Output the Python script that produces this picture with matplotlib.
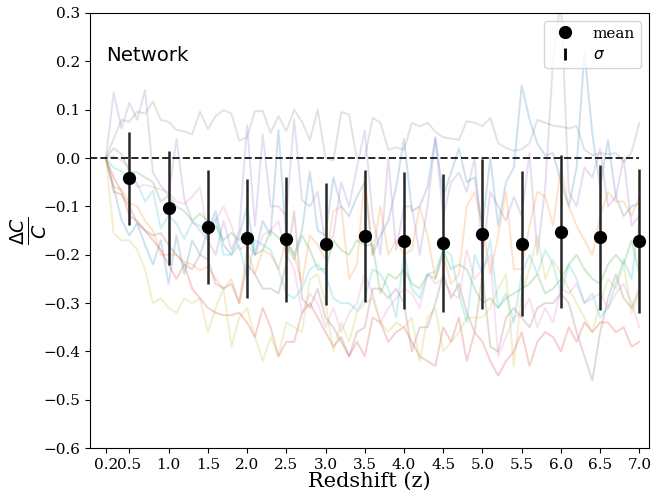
import numpy as np
import matplotlib
matplotlib.use("Agg")
import matplotlib.pyplot as plt
from matplotlib.lines import Line2D

# redshift grid for the individual runs (0.2 ... 7.0, step 0.1)
z_runs = np.round(np.arange(0.2, 7.01, 0.1), 1)

# individual runs (ΔC/C)
run_blue = [
    0.0, -0.06, -0.128, -0.16, -0.135, -0.18, -0.22, -0.17, -0.26, -0.16,
    -0.24, -0.17, -0.2, -0.15, -0.11, -0.18, -0.2, -0.16, -0.1, -0.2,
    -0.13, -0.16, 0.058, -0.17, -0.2, -0.15, -0.028, -0.15, -0.16, -0.04,
    -0.1, -0.12, -0.08, -0.05, -0.2, -0.16, -0.13, -0.06, 0.04, -0.11,
    -0.1, -0.06, 0.043, -0.08, -0.03, 0.02, -0.05, -0.04, -0.14, 0.0,
    -0.14, -0.05, -0.02, 0.15, 0.08, 0.03, 0.005, 0.01, -0.05, -0.1,
    -0.02, 0.22, 0.05, -0.06, 0.037, -0.08, -0.12, -0.1, -0.094]
run_orange = [
    0.0, -0.06, -0.065, -0.093, -0.1, -0.13, -0.15, -0.2, -0.2, -0.2,
    -0.215, -0.22, -0.232, -0.225, -0.25, -0.27, -0.25, -0.3, -0.19, -0.24,
    -0.19, -0.2, -0.23, -0.17, -0.2, -0.26, -0.16, -0.18, -0.21, -0.11,
    -0.1, -0.25, -0.22, -0.037, -0.2, -0.1, -0.2, -0.17, -0.2, -0.19,
    -0.1, -0.16, -0.25, -0.2, -0.26, -0.24, -0.1, -0.07, -0.14, -0.24,
    -0.16, -0.07, -0.23, -0.23, -0.14, -0.07, -0.08, -0.14, -0.02, -0.1,
    -0.14, -0.17, -0.2, -0.12, -0.07, -0.09, -0.09, -0.12, -0.08]
run_green = [
    0.0, 0.02, 0.008, -0.028, -0.03, -0.04, -0.05, -0.09, -0.078, -0.1,
    -0.11, -0.13, -0.115, -0.13, -0.14, -0.17, -0.155, -0.17, -0.15, -0.2,
    -0.19, -0.15, -0.165, -0.18, -0.21, -0.16, -0.19, -0.23, -0.23, -0.17,
    -0.19, -0.2, -0.17, -0.18, -0.18, -0.28, -0.24, -0.25, -0.23, -0.26,
    -0.27, -0.24, -0.25, -0.19, -0.23, -0.22, -0.23, -0.27, -0.3, -0.29,
    -0.31, -0.29, -0.28, -0.27, -0.26, -0.24, -0.28, -0.27, -0.25, -0.22,
    -0.2, -0.23, -0.25, -0.26, -0.22, -0.2, -0.22, -0.17, -0.24]
run_red = [
    0.0, -0.04, -0.07, -0.12, -0.13, -0.15, -0.17, -0.19, -0.22, -0.25,
    -0.22, -0.27, -0.29, -0.31, -0.32, -0.325, -0.325, -0.32, -0.34, -0.37,
    -0.31, -0.35, -0.41, -0.38, -0.38, -0.32, -0.3, -0.33, -0.36, -0.39,
    -0.37, -0.41, -0.38, -0.41, -0.33, -0.34, -0.38, -0.36, -0.35, -0.38,
    -0.41, -0.42, -0.43, -0.35, -0.38, -0.33, -0.42, -0.36, -0.38, -0.42,
    -0.45, -0.42, -0.4, -0.36, -0.43, -0.38, -0.36, -0.37, -0.4, -0.35,
    -0.38, -0.34, -0.36, -0.34, -0.34, -0.36, -0.35, -0.39, -0.38]
run_purple = [
    0.0, 0.135, 0.061, 0.114, 0.079, 0.141, -0.03, -0.057, -0.078, 0.04,
    -0.085, -0.13, -0.15, -0.17, -0.2, -0.13, -0.19, -0.15, 0.068, -0.14,
    0.049, -0.1, -0.1, -0.12, 0.08, -0.087, -0.1, -0.07, -0.18, -0.16,
    -0.05, -0.1, -0.02, 0.057, -0.12, -0.2, 0.0, -0.19, -0.1, -0.1,
    -0.2, -0.1, 0.04, -0.12, -0.05, -0.03, -0.07, 0.0, -0.2, -0.07,
    -0.1, -0.13, -0.08, -0.12, 0.01, -0.2, -0.06, 0.2, 0.33, -0.07,
    -0.1, -0.02, -0.04, 0.02, -0.1, -0.08, 0.0, -0.14, -0.12]
run_brown = [
    0.0, -0.07, -0.075, -0.1, -0.135, -0.15, -0.16, -0.155, -0.18, -0.2,
    -0.22, -0.23, -0.2, -0.21, -0.26, -0.27, -0.26, -0.3, -0.22, -0.24,
    -0.27, -0.27, -0.28, -0.22, -0.11, -0.29, -0.31, -0.27, -0.33, -0.35,
    -0.38, -0.41, -0.36, -0.35, -0.27, -0.27, -0.29, -0.27, -0.3, -0.4,
    -0.35, -0.35, -0.3, -0.24, -0.29, -0.26, -0.32, -0.36, -0.24, -0.39,
    -0.4, -0.33, -0.31, -0.33, -0.35, -0.31, -0.3, -0.3, -0.28, -0.3,
    -0.36, -0.41, -0.46, -0.36, -0.29, -0.24, -0.29, -0.31, -0.27]
run_pink = [
    0.0, 0.005, -0.005, -0.02, -0.06, -0.055, -0.06, -0.065, -0.07, -0.09,
    -0.095, -0.08, -0.06, -0.16, -0.13, -0.1, -0.14, -0.19, -0.18, -0.2,
    -0.16, -0.15, -0.13, -0.2, -0.23, -0.32, -0.28, -0.3, -0.35, -0.31,
    -0.36, -0.32, -0.3, -0.24, -0.28, -0.34, -0.31, -0.29, -0.27, -0.28,
    -0.31, -0.24, -0.26, -0.25, -0.28, -0.29, -0.19, -0.25, -0.23, -0.2,
    -0.41, -0.37, -0.33, -0.32, -0.29, -0.35, -0.31, -0.34, -0.27, -0.28,
    -0.26, -0.3, -0.29, -0.28, -0.31, -0.28, -0.26, -0.3, -0.35]
run_gray = [
    0.0, 0.04, 0.079, 0.075, 0.096, 0.092, 0.117, 0.079, 0.075, 0.058,
    0.055, 0.049, 0.096, 0.06, 0.087, 0.099, 0.092, 0.036, 0.043, 0.097,
    0.097, 0.052, 0.087, 0.056, 0.1, 0.075, 0.037, 0.1, 0.0, -0.005,
    0.095, 0.09, 0.0, 0.0, 0.083, 0.073, 0.017, 0.022, 0.017, 0.073,
    0.065, 0.073, 0.054, 0.043, 0.04, 0.038, 0.076, 0.073, 0.066, 0.083,
    0.031, 0.021, 0.015, 0.018, 0.031, 0.079, 0.073, 0.067, 0.065, 0.061,
    0.066, 0.017, 0.006, 0.010, 0.008, 0.010, -0.008, 0.012, 0.073]
run_olive = [
    0.0, -0.156, -0.17, -0.17, -0.19, -0.23, -0.3, -0.29, -0.31, -0.32,
    -0.29, -0.3, -0.29, -0.36, -0.31, -0.27, -0.39, -0.33, -0.31, -0.37,
    -0.42, -0.37, -0.41, -0.34, -0.35, -0.36, -0.25, -0.24, -0.3, -0.4,
    -0.34, -0.38, -0.32, -0.3, -0.29, -0.34, -0.36, -0.34, -0.35, -0.33,
    -0.42, -0.33, -0.31, -0.4, -0.38, -0.36, -0.33, -0.33, -0.33, -0.31,
    -0.27, -0.24, -0.43, -0.28, -0.23, -0.16, -0.25, -0.21, -0.24, -0.27,
    -0.3, -0.33, -0.36, -0.3, -0.25, -0.27, -0.22, -0.32, -0.28]
run_cyan = [
    0.0, -0.02, -0.028, -0.04, -0.052, -0.09, -0.068, -0.146, -0.119, -0.136,
    -0.167, -0.133, -0.14, -0.16, -0.123, -0.2, -0.2, -0.18, -0.25, -0.17,
    -0.18, -0.19, -0.23, -0.28, -0.29, -0.27, -0.23, -0.22, -0.24, -0.29,
    -0.3, -0.3, -0.315, -0.29, -0.23, -0.24, -0.27, -0.33, -0.2, -0.27,
    -0.29, -0.24, -0.235, -0.19, -0.2, -0.28, -0.34, -0.2, -0.24, -0.17,
    -0.31, -0.28, -0.34, -0.24, -0.2, -0.24, -0.19, -0.22, -0.28, -0.22,
    -0.25, -0.3, -0.28, -0.33, -0.31, -0.26, -0.21, -0.25, -0.13]

runs = [run_blue, run_orange, run_green, run_red, run_purple,
        run_brown, run_pink, run_gray, run_olive, run_cyan]

# binned mean and scatter
z_bins = [0.5, 1.0, 1.5, 2.0, 2.5, 3.0, 3.5, 4.0, 4.5, 5.0, 5.5, 6.0, 6.5, 7.0]
mean_vals = [-0.042, -0.104, -0.143, -0.166, -0.168, -0.177, -0.161,
             -0.171, -0.175, -0.157, -0.177, -0.152, -0.164, -0.172]
sigma_vals = [0.096, 0.118, 0.118, 0.123, 0.129, 0.126, 0.136,
              0.142, 0.143, 0.155, 0.150, 0.158, 0.150, 0.149]

xticks = [0.2] + z_bins
serif = "DejaVu Serif"

fig = plt.figure(figsize=(6.58, 4.98), dpi=100)
ax = fig.add_axes([0.137, 0.1, 0.849, 0.874])

for r in runs:
    ax.plot(z_runs, r, lw=1.4, alpha=0.22)

ax.plot([0.0, 7.0], [0.0, 0.0], ls="--", color="0.15", lw=1.4)

ax.errorbar(z_bins, mean_vals, yerr=sigma_vals, fmt="o", color="k",
            ecolor="0.15", elinewidth=1.8, ms=8.5, zorder=5)

ax.text(0.2, 0.2, "Network", fontsize=14.2)

ax.set_xlim(0.0, 7.12)
ax.set_ylim(-0.6, 0.3)
ax.set_xticks(xticks)
ax.set_xticklabels([f"{t:.1f}" for t in xticks])
ax.set_yticks(np.round(np.arange(-0.6, 0.31, 0.1), 1))
for lab in ax.get_xticklabels() + ax.get_yticklabels():
    lab.set_family(serif)
    lab.set_fontsize(11)

ax.set_xlabel("Redshift (z)", family=serif, fontsize=15, labelpad=0)
ax.set_ylabel(r"$\frac{\Delta C}{C}$", fontsize=19.5, labelpad=-4)

handles = [
    Line2D([], [], ls="", marker="o", color="k", ms=8.5),
    Line2D([], [], ls="", marker="|", color="k", ms=9, mew=2),
]
ax.legend(handles, ["mean", r"$\sigma$"], loc="upper right",
          prop={"family": serif, "size": 11}, handletextpad=0.8,
          borderaxespad=0.5)

fig.savefig("out.png", dpi=100)
